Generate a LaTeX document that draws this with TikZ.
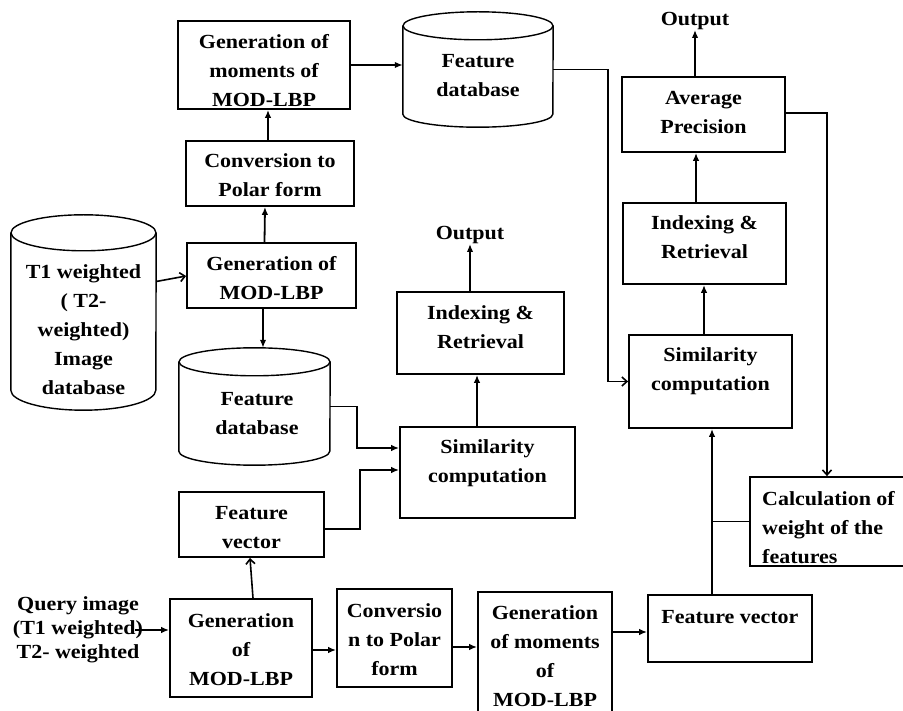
\documentclass[tikz,border=0pt]{standalone}
\usepackage{fontspec}
\setmainfont{Liberation Serif}[FakeStretch=1.1]
\usetikzlibrary{arrows.meta,calc}
\begin{document}
\begin{tikzpicture}[x=1pt,y=-1pt,
  box/.style={draw, line width=1.8pt, inner sep=0pt},
  hid/.style={inner sep=0pt},
  txt/.style={font=\fontsize{20}{29}\selectfont\bfseries, align=center, inner sep=0pt},
  cyl/.style={line width=1.4pt},
  arr/.style={line width=1.8pt, -{Latex[length=8pt,width=6.5pt]}},
  oarr/.style={line width=1.6pt, -{Straight Barb[length=5pt,width=9pt]}},
  ln/.style={line width=1.8pt}]
\fill[white] (0,0) rectangle (903,711);
\useasboundingbox (0,0) rectangle (903,711);

% ---------- top-left column
\node[box, minimum width=172pt, minimum height=88pt] (genmom) at (264,65) {};
\node[txt] (genmomT) at (264,71) {Generation of\\moments of\\MOD-LBP};
\node[box, minimum width=168pt, minimum height=65pt] (conv) at (270,173.5) {};
\node[txt] (convT) at (270,175) {Conversion to\\Polar form};
\node[box, minimum width=169pt, minimum height=65pt] (genmodA) at (271.5,275.5) {};
\node[txt] (genmodAT) at (271.5,278) {Generation of\\MOD-LBP};

% ---------- cylinders
\node[hid, minimum width=150pt, minimum height=115pt] (fdbA) at (478,69.5) {};
\draw[cyl] ([yshift=-14pt]fdbA.north) ellipse [x radius=75pt, y radius=14pt];
\draw[cyl] ([yshift=-14pt]fdbA.north west) -- ([yshift=13pt]fdbA.south west)
  arc[start angle=180, end angle=360, x radius=75pt, y radius=13pt] -- ([yshift=-14pt]fdbA.north east);
\node[txt] (fdbAT) at (478,76) {Feature\\database};

\node[hid, minimum width=145pt, minimum height=195pt] (tdb) at (83.5,312.5) {};
\draw[cyl] ([yshift=-18pt]tdb.north) ellipse [x radius=72.5pt, y radius=18pt];
\draw[cyl] ([yshift=-18pt]tdb.north west) -- ([yshift=20pt]tdb.south west)
  arc[start angle=180, end angle=360, x radius=72.5pt, y radius=20pt] -- ([yshift=-18pt]tdb.north east);
\node[txt] (tdbT) at (83.5,330) {T1 weighted\\( T2-\\weighted)\\Image\\database};

\node[hid, minimum width=151pt, minimum height=117pt] (fdbB) at (254.5,406.5) {};
\draw[cyl] ([yshift=-14pt]fdbB.north) ellipse [x radius=75.5pt, y radius=14pt];
\draw[cyl] ([yshift=-14pt]fdbB.north west) -- ([yshift=14pt]fdbB.south west)
  arc[start angle=180, end angle=360, x radius=75.5pt, y radius=14pt] -- ([yshift=-14pt]fdbB.north east);
\node[txt] (fdbBT) at (257,414) {Feature\\database};

% ---------- middle column
\node[box, minimum width=175pt, minimum height=91pt] (simA) at (487.5,472.5) {};
\node[txt] (simAT) at (487.5,463.5) {Similarity\\computation};
\node[box, minimum width=167pt, minimum height=82pt] (idxA) at (480.5,333) {};
\node[txt] (idxAT) at (480.5,327.5) {Indexing \&\\Retrieval};
\node[txt] (outA) at (470,235) {Output};

% ---------- right column
\node[box, minimum width=163pt, minimum height=75pt] (avg) at (703.5,114.5) {};
\node[txt] (avgT) at (703.5,112.5) {Average\\Precision};
\node[txt] (outB) at (695,21) {Output};
\node[box, minimum width=163pt, minimum height=81pt] (idxB) at (704.5,243.5) {};
\node[txt] (idxBT) at (704.5,237.5) {Indexing \&\\Retrieval};
\node[box, minimum width=163pt, minimum height=93pt] (simB) at (710.5,381.5) {};
\node[txt] (simBT) at (710.5,371.5) {Similarity\\computation};
\node[box, minimum width=200pt, minimum height=89pt] (calc) at (850,521.5) {};
\node[txt, align=left, anchor=west] (calcT) at (762,528) {Calculation of\\weight of the\\features};
\node[box, minimum width=164pt, minimum height=67pt] (fvB) at (730,628.5) {};
\node[txt] (fvBT) at (730,617) {Feature vector};

% ---------- bottom row
\node[box, minimum width=134pt, minimum height=148pt] (genmomB) at (545,666) {};
\node[txt] (genmomBT) at (545,656) {Generation\\of moments\\of\\MOD-LBP};
\node[box, minimum width=115pt, minimum height=98pt] (convB) at (394.5,638) {};
\node[txt] (convBT) at (394.5,640) {Conversio\\n to Polar\\form};
\node[box, minimum width=142pt, minimum height=98pt] (genmodB) at (241,648) {};
\node[txt] (genmodBT) at (241,650) {Generation\\of\\MOD-LBP};
\node[box, minimum width=145pt, minimum height=65pt] (fvA) at (251.5,524.5) {};
\node[txt] (fvAT) at (251.5,527.5) {Feature\\vector};
\node[txt, font=\fontsize{20}{24}\selectfont\bfseries] (query) at (78,630) {Query image\\(T1 weighted)\\T2- weighted};

% ---------- connectors
\draw[arr] (genmom.east) -- (genmom.east -| fdbA.west);
\draw[arr] ([xshift=-2pt]conv.north) -- ([xshift=-2pt]conv.north |- genmom.south);
\draw[arr] ([xshift=-7pt]genmodA.north) -- ([xshift=-5pt]conv.south);
\draw[oarr] ([yshift=31pt]tdb.east) -- ([yshift=-0.5pt]genmodA.west);
\draw[arr] ([xshift=-8.5pt]genmodA.south) -- ([xshift=-8.5pt]genmodA.south |- fdbB.north);
\draw[arr] (fdbB.east) -- ++(27,0) |- ([yshift=24.5pt]simA.west);
\draw[arr] ([yshift=-4.5pt]fvA.east) -- ++(35,0) |- ([yshift=2.5pt]simA.west);
\draw[arr] ([xshift=-10.5pt]simA.north) -- ([xshift=-10.5pt]simA.north |- idxA.south);
\draw[arr] (idxA.north -| outA.south) -- (outA.south);
\draw[oarr] ([xshift=12pt]genmodB.north) -- ([xshift=-1.5pt]fvA.south);
\draw[arr] ([xshift=-8pt]query.east) -- (query.east -| genmodB.west);
\draw[arr] ([yshift=-2pt]genmodB.east) -- ([yshift=-2pt]genmodB.east -| convB.west);
\draw[arr] ([yshift=-9pt]convB.east) -- ([yshift=-9pt]convB.east -| genmomB.west);
\draw[arr] ([yshift=34pt]genmomB.east) -- ([yshift=34pt]genmomB.east -| fvB.west);
\coordinate (jn) at ([xshift=-18pt]fvB.north |- calc.west);
\draw[arr] ([xshift=-18pt]fvB.north) -- ([xshift=-18pt]fvB.north |- simB.south);
\draw[ln] (calc.west) -- (jn);
\draw[arr] ([xshift=-6.5pt]simB.north) -- ([xshift=-6.5pt]simB.north |- idxB.south);
\draw[arr] ([xshift=-8.5pt]idxB.north) -- ([xshift=-8.5pt]idxB.north |- avg.south);
\draw[arr] (avg.north -| outB.south) -- (outB.south);
\draw[oarr] ([yshift=1.5pt]avg.east) -| ([xshift=-23pt]calc.north);
\draw[oarr] (fdbA.east) -- ++(55,0) |- (simB.west);
\end{tikzpicture}
\end{document}
